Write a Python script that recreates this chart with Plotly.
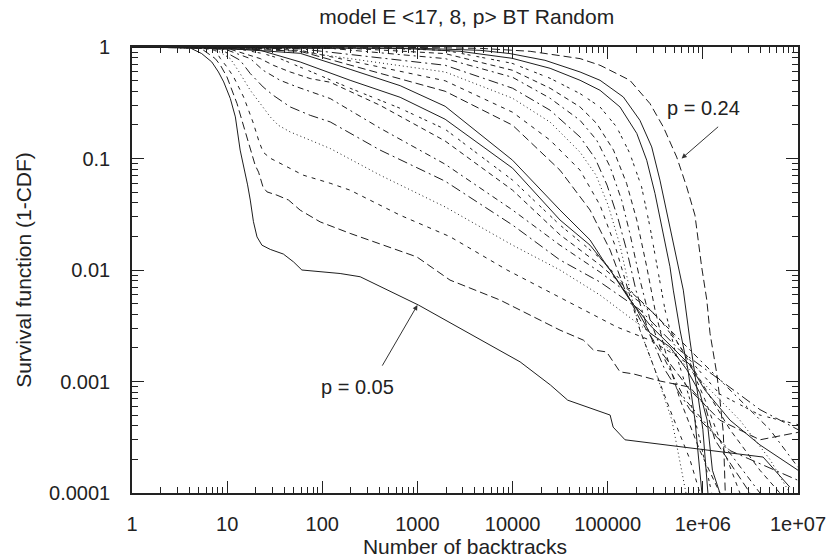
import plotly.graph_objects as go

# ---- data (x = number of backtracks, y = 1-CDF) ----
p_labels = ["p=0.05", "p=0.06", "p=0.07", "p=0.08", "p=0.09", "p=0.10", "p=0.11", "p=0.12",
            "p=0.13", "p=0.14", "p=0.15", "p=0.16", "p=0.17", "p=0.18", "p=0.19", "p=0.20",
            "p=0.21", "p=0.22", "p=0.23", "p=0.24"]

x_p05 = [1, 4, 5.4, 6.9, 8.1, 9.2, 10.8, 12.2, 13.7, 15.5, 16.4, 17.5, 18.9, 20.6, 23.2, 28.4, 39, 50, 61,
         154, 250, 1030, 4500, 12000, 25000, 38000, 106000, 114000, 152000, 4.3e6, 8.2e6]
y_p05 = [1, 0.99, 0.873, 0.734, 0.597, 0.486, 0.345, 0.236, 0.119, 0.076, 0.058, 0.0424, 0.0271, 0.0198,
         0.0167, 0.0153, 0.0139, 0.0118, 0.0100, 0.0093, 0.0087, 0.00484, 0.0024, 0.0015, 0.00093,
         0.00068, 0.0005, 0.00039, 0.0003, 0.00021, 0.000113]

x_p06 = [1, 5.2, 7.5, 8.5, 9.95, 11.2, 12.7, 14.3, 16.1, 18.2, 19.7, 21.4, 23.8, 26.2, 33.4, 44.2, 58.6,
         95, 196, 440, 986, 2200, 7380, 31500, 55500, 70600, 97500, 134500, 186000, 354000, 731000,
         1.05e6, 1.34e6, 2.17e6, 3.13e6]
y_p06 = [1, 0.984, 0.787, 0.686, 0.539, 0.409, 0.311, 0.220, 0.156, 0.111, 0.0871, 0.0754, 0.0557,
         0.0502, 0.0469, 0.0424, 0.0344, 0.0270, 0.0213, 0.0167, 0.0131, 0.00812, 0.00538, 0.00289,
         0.00235, 0.00192, 0.00184, 0.00122, 0.00117, 0.00101, 0.00089, 0.000616, 0.000299, 0.00016,
         0.0001]

x_p07 = [1, 5.2, 7.5, 8.5, 9.95, 11.7, 13.2, 14.9, 16.8, 18.9, 21.4, 23.9, 28.4, 42.8, 63, 121, 196,
         658, 2200, 8750, 19500, 55000, 125000, 278000, 451000, 731000, 1.05e6, 1.51e6, 2.45e6]
y_p07 = [1, 0.984, 0.934, 0.787, 0.662, 0.539, 0.438, 0.356, 0.271, 0.206, 0.146, 0.114, 0.1006,
         0.0836, 0.0709, 0.060, 0.052, 0.031, 0.0199, 0.0100, 0.00703, 0.0044, 0.00308, 0.00235,
         0.00184, 0.00141, 0.00069, 0.0003, 0.0001]

x_p08 = [1, 4.1, 7.5, 10.8, 13.7, 17.5, 22.3, 28.4, 34.4, 46, 74.6, 121, 405, 1955, 10000, 31500,
         83000, 134500, 354000, 931000, 2.45e6, 5.07e6, 8.2e6]
y_p08 = [1, 0.984, 0.954, 0.787, 0.578, 0.409, 0.311, 0.236, 0.199, 0.173, 0.146, 0.123, 0.0709,
         0.0368, 0.0167, 0.0100, 0.00596, 0.0044, 0.00235, 0.00104, 0.00045, 0.0002, 0.0001]

x_p09 = [1, 4.1, 8.5, 13.7, 17.5, 23.9, 30.5, 46, 74.6, 121, 405, 1955, 10000, 31500, 83000, 218000,
         575000, 1.51e6, 3.98e6, 1e7]
y_p09 = [1, 0.984, 0.954, 0.760, 0.578, 0.438, 0.369, 0.290, 0.244, 0.213, 0.119, 0.0626, 0.0253,
         0.0123, 0.0078, 0.0044, 0.0019, 0.00104, 0.00056, 0.00037]

x_p10 = [1, 5.2, 9.55, 17.5, 23.9, 36, 54.5, 88.3, 121, 405, 1955, 10000, 31500, 83000, 278000,
         931000, 2.45e6, 5.07e6, 1e7]
y_p10 = [1, 0.984, 0.954, 0.787, 0.618, 0.503, 0.438, 0.382, 0.345, 0.187, 0.0889, 0.0345, 0.0167,
         0.00957, 0.0044, 0.00156, 0.00069, 0.00037, 0.00017]

x_p11 = [1, 5.2, 10.8, 22.3, 30.5, 46, 74.6, 121, 405, 1955, 10000, 31500, 83000, 218000, 451000,
         931000, 1.93e6, 3.98e6, 6.45e6]
y_p11 = [1, 0.984, 0.954, 0.787, 0.686, 0.597, 0.521, 0.483, 0.300, 0.1435, 0.052, 0.0207, 0.0111,
         0.00538, 0.0029, 0.00104, 0.00037, 0.00016, 0.0001]

x_p12 = [1, 5.2, 13.7, 23.9, 36, 58.6, 196, 658, 1955, 10000, 31500, 83000, 171000, 354000, 731000,
         1.51e6, 3.98e6, 1e7]
y_p12 = [1, 0.984, 0.954, 0.873, 0.787, 0.658, 0.427, 0.282, 0.183, 0.064, 0.0253, 0.0128, 0.0066,
         0.0036, 0.00156, 0.00077, 0.0005, 0.00041]

x_p13 = [1, 8.5, 22.3, 58.6, 196, 658, 1955, 10000, 31500, 65200, 106000, 171000, 278000, 451000,
         731000, 1.05e6, 1.93e6, 3.98e6, 1e7]
y_p13 = [1, 0.973, 0.934, 0.734, 0.503, 0.354, 0.225, 0.0819, 0.0281, 0.0167, 0.0100, 0.00538,
         0.0032, 0.00212, 0.00141, 0.00084, 0.00045, 0.00027, 0.00016]

x_p14 = [1, 5.2, 13.7, 58.6, 196, 658, 1955, 10000, 31500, 65200, 89200, 125000, 203000, 278000,
         451000, 681000, 931000, 1.11e6, 1.26e6, 1.51e6]
y_p14 = [1, 0.984, 0.954, 0.878, 0.631, 0.450, 0.294, 0.0965, 0.0345, 0.0186, 0.0123, 0.0082,
         0.0044, 0.00272, 0.00204, 0.00127, 0.00079, 0.00045, 0.00016, 0.0001]

x_p15 = [1, 13.7, 58.6, 1955, 10000, 31500, 65200, 106000, 152000, 218000, 354000, 731000, 1.51e6,
         3.98e6, 1e7]
y_p15 = [1, 0.963, 0.915, 0.401, 0.199, 0.0786, 0.0345, 0.0151, 0.0066, 0.0036, 0.0019, 0.00084,
         0.00045, 0.0003, 0.00035]

x_p16 = [1, 22.3, 58.6, 1955, 10000, 24800, 51200, 83000, 119000, 163000, 218000, 314000, 451000,
         731000, 931000]
y_p16 = [1, 0.963, 0.934, 0.498, 0.260, 0.146, 0.0786, 0.0381, 0.0167, 0.0066, 0.0029, 0.00127,
         0.00056, 0.0002, 0.0001]

x_p17 = [1, 36, 1955, 10000, 24800, 51200, 75400, 101000, 134500, 171000, 218000, 314000, 473000,
         664000]
y_p17 = [1, 0.963, 0.597, 0.347, 0.212, 0.114, 0.0709, 0.0381, 0.0167, 0.0066, 0.0029, 0.00127,
         0.00045, 0.0001]

x_p18 = [1, 58.6, 1955, 10000, 24800, 51200, 73600, 98400, 128000, 160000, 198000, 265000, 400000,
         731000, 1.93e6, 1e7]
y_p18 = [1, 0.963, 0.686, 0.427, 0.271, 0.156, 0.1006, 0.0577, 0.0292, 0.0145, 0.0066, 0.0029,
         0.00127, 0.00056, 0.00024, 0.00013]

x_p19 = [1, 121, 1955, 10000, 24800, 51200, 76600, 106000, 140000, 171000, 218000, 278000, 400000,
         649000, 1.51e6, 3.98e6]
y_p19 = [1, 0.973, 0.787, 0.535, 0.347, 0.220, 0.146, 0.0841, 0.0424, 0.0213, 0.0082, 0.0036,
         0.00156, 0.00069, 0.0003, 0.0001]

x_p20 = [1, 196, 1955, 10000, 24800, 51200, 76600, 115000, 158000, 202000, 257000, 314000, 400000,
         575000, 931000, 1.51e6]
y_p20 = [1, 0.973, 0.873, 0.618, 0.427, 0.290, 0.206, 0.119, 0.0597, 0.0281, 0.0107, 0.0044,
         0.0019, 0.00069, 0.00024, 0.0001]

x_p21 = [1, 405, 1955, 9880, 24800, 51200, 83000, 124000, 171000, 227000, 278000, 340000, 400000,
         509000, 731000, 931000, 1.24e6]
y_p21 = [1, 0.973, 0.934, 0.714, 0.524, 0.382, 0.290, 0.192, 0.111, 0.0557, 0.0244, 0.00933,
         0.0044, 0.0019, 0.00069, 0.0003, 0.0001]

x_p22 = [1, 658, 2810, 9880, 24800, 51200, 83000, 134500, 202000, 257000, 314000, 384000, 451000,
         489000, 575000, 698000, 826000, 977000]
y_p22 = [1, 0.973, 0.915, 0.792, 0.644, 0.503, 0.409, 0.290, 0.168, 0.0965, 0.0486, 0.0213, 0.0107,
         0.0066, 0.0029, 0.00127, 0.00045, 0.0001]

x_p23 = [1, 1067, 4550, 9420, 21900, 51200, 83000, 146000, 218000, 290000, 354000, 433000, 531000,
         623000, 731000, 846000, 1.0e6, 1.13e6]
y_p23 = [1, 0.973, 0.934, 0.873, 0.760, 0.597, 0.503, 0.356, 0.220, 0.127, 0.064, 0.0281, 0.0123,
         0.0066, 0.00235, 0.00104, 0.00037, 0.0001]

x_p24 = [1, 658, 4550, 15300, 51200, 83000, 171000, 278000, 384000, 531000, 676000, 826000, 971000,
         1.10e6, 1.19e6, 1.40e6, 1.51e6, 1.64e6, 1.72e6]
y_p24 = [1, 0.994, 0.973, 0.915, 0.787, 0.686, 0.503, 0.311, 0.192, 0.103, 0.0557, 0.031, 0.0107,
         0.00538, 0.0027, 0.00118, 0.00069, 0.00035, 0.0001]

x_tickvals = [1, 10, 100, 1000, 10000, 100000, 1e6, 1e7]
x_ticktext = ["1", "10", "100", "1000", "10000", "100000", "1e+06", "1e+07"]
y_tickvals = [0.0001, 0.001, 0.01, 0.1, 1]
y_ticktext = ["0.0001", "0.001", "0.01", "0.1", "1"]

# ---- styles (gnuplot-like dash cycle) ----
dash_cycle = ["solid", "8px,4px", "4px,5px", "1px,3px", "10px,4px,2px,4px", "6px,4px,2px,4px",
              "5px,4px", "3px,3px,3px,6px", "solid"]

series = [(x_p05, y_p05), (x_p06, y_p06), (x_p07, y_p07), (x_p08, y_p08), (x_p09, y_p09),
          (x_p10, y_p10), (x_p11, y_p11), (x_p12, y_p12), (x_p13, y_p13), (x_p14, y_p14),
          (x_p15, y_p15), (x_p16, y_p16), (x_p17, y_p17), (x_p18, y_p18), (x_p19, y_p19),
          (x_p20, y_p20), (x_p21, y_p21), (x_p22, y_p22), (x_p23, y_p23), (x_p24, y_p24)]

fig = go.Figure()
for i, (xs, ys) in enumerate(series):
    fig.add_trace(go.Scatter(x=xs, y=ys, mode="lines", name=p_labels[i],
                             line=dict(color="#1e1e1e", width=1.0, dash=dash_cycle[i % 9]),
                             showlegend=False, hoverinfo="skip"))

minor_x = [m * 10 ** k for k in range(0, 7) for m in range(2, 10)]
minor_y = [m * 10.0 ** k for k in range(-4, 0) for m in range(2, 10)]

font_family = "Liberation Sans, Arial, sans-serif"
txt = "#222222"
fs_tick = 20
fs_title = 21

fig.update_xaxes(type="log", range=[0, 7], tickmode="array", tickvals=x_tickvals, ticktext=x_ticktext,
                 automargin=False,
                 ticks="inside", ticklen=12, tickwidth=1.2, tickcolor="#222", showline=True,
                 linecolor="#222", linewidth=1.6, mirror="allticks", showgrid=False, zeroline=False,
                 ticklabelstandoff=12, tickfont=dict(size=fs_tick, color=txt, family=font_family),
                 minor=dict(tickmode="array", tickvals=minor_x, ticks="inside", ticklen=6,
                            tickcolor="#222", tickwidth=1, showgrid=False),
                 title=dict(text="Number of backtracks", font=dict(size=fs_title, color=txt, family=font_family),
                            standoff=5))
fig.update_yaxes(type="log", range=[-4, 0], tickmode="array", tickvals=y_tickvals, ticktext=y_ticktext,
                 automargin=False,
                 ticks="inside", ticklen=12, tickwidth=1.2, tickcolor="#222", showline=True,
                 linecolor="#222", linewidth=1.6, mirror="allticks", showgrid=False, zeroline=False,
                 ticklabelstandoff=16, tickfont=dict(size=fs_tick, color=txt, family=font_family),
                 minor=dict(tickmode="array", tickvals=minor_y, ticks="inside", ticklen=6,
                            tickcolor="#222", tickwidth=1, showgrid=False),
                 title=dict(text="Survival function (1-CDF)", font=dict(size=fs_title, color=txt, family=font_family),
                            standoff=12))

# arrows and labels
fig.add_annotation(x=5.777, y=-1.0, xref="x", yref="y", ax=38, ay=-33, text="",
                   showarrow=True, arrowhead=2, arrowsize=1, arrowwidth=1, arrowcolor="#333")
fig.add_annotation(x=6.01, y=-0.549, xref="x", yref="y", text="p = 0.24", showarrow=False,
                   font=dict(size=fs_tick, color=txt, family=font_family))
fig.add_annotation(x=3.0, y=-2.315, xref="x", yref="y", ax=-36, ay=62, text="",
                   showarrow=True, arrowhead=2, arrowsize=1, arrowwidth=1, arrowcolor="#333")
fig.add_annotation(x=2.368, y=-3.049, xref="x", yref="y", text="p = 0.05", showarrow=False,
                   font=dict(size=fs_tick, color=txt, family=font_family))

fig.update_layout(
    width=829, height=560,
    margin=dict(l=132, r=31, t=47, b=67, autoexpand=False),
    paper_bgcolor="white", plot_bgcolor="white",
    title=dict(text="model E <17, 8, p> BT Random", x=0.563, xanchor="center", y=0.971, yanchor="middle",
               font=dict(size=fs_title, color=txt, family=font_family)),
    showlegend=False,
)

# remove the default 8px page margin so the 829x560 figure fills the window exactly
fig.write_html("out.html", config={"displayModeBar": False},
               post_script="document.body.style.margin='0px';")
